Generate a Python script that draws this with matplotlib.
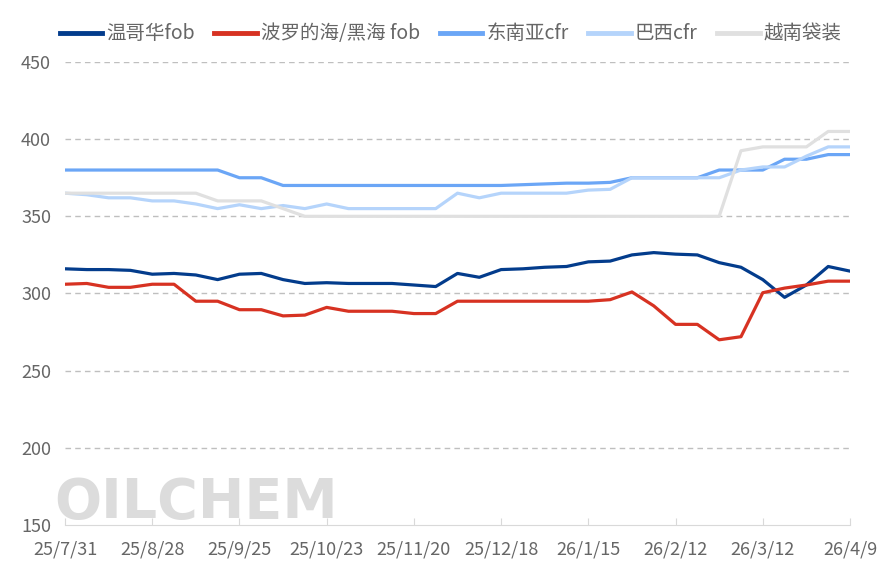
import matplotlib
matplotlib.use("Agg")
import matplotlib.pyplot as plt

plt.rcParams['font.family'] = ['Noto Sans CJK SC', 'DejaVu Sans']

# weekly points, 25/7/31 .. 26/4/9
tick_labels = ['25/7/31', '25/8/28', '25/9/25', '25/10/23', '25/11/20',
               '25/12/18', '26/1/15', '26/2/12', '26/3/12', '26/4/9']

vancouver = [316, 315.5, 315.5, 315, 312.5, 313, 312, 309, 312.5, 313,
             309, 306.5, 307, 306.5, 306.5, 306.5, 305.5, 304.5, 313, 310.5,
             315.5, 316, 317, 317.5, 320.5, 321, 325, 326.5, 325.5, 325,
             320, 317, 309, 297.5, 305.5, 317.5, 314.5]
baltic = [306, 306.5, 304, 304, 306, 306, 295, 295, 289.5, 289.5,
          285.5, 286, 291, 288.5, 288.5, 288.5, 287, 287, 295, 295,
          295, 295, 295, 295, 295, 296, 301, 292, 280, 280,
          270, 272, 300.5, 303.5, 305.5, 308, 308]
sea_cfr = [380, 380, 380, 380, 380, 380, 380, 380, 375, 375,
           370, 370, 370, 370, 370, 370, 370, 370, 370, 370,
           370, 370.5, 371, 371.5, 371.5, 372, 375, 375, 375, 375,
           380, 380, 380, 387, 387, 390, 390]
brazil_cfr = [365, 364, 362, 362, 360, 360, 358, 355, 357.5, 355,
              357, 355, 358, 355, 355, 355, 355, 355, 365, 362,
              365, 365, 365, 365, 367, 367.5, 375, 375, 375, 375,
              375, 380, 382, 382, 389, 395, 395]
vietnam_bag = [365, 365, 365, 365, 365, 365, 365, 360, 360, 360,
               355, 350, 350, 350, 350, 350, 350, 350, 350, 350,
               350, 350, 350, 350, 350, 350, 350, 350, 350, 350,
               350, 392.5, 395, 395, 395, 405, 405]

series = [
    ('温哥华fob', vancouver, '#033c8c'),
    ('波罗的海/黑海 fob', baltic, '#d73222'),
    ('东南亚cfr', sea_cfr, '#6ba6f6'),
    ('巴西cfr', brazil_cfr, '#b5d4fb'),
    ('越南袋装', vietnam_bag, '#e0e0e0'),
]

fig = plt.figure(figsize=(8.87, 5.83), dpi=100)
ax = fig.add_axes([65 / 887, 1 - 525 / 583, 785 / 887, 463 / 583])

# watermark behind everything
fig.text(54 / 887, 1 - 518 / 583, 'OILCHEM', fontsize=40, fontweight='bold',
         color='#dcdcdc', family='DejaVu Sans', zorder=0)

x = list(range(len(vancouver)))
for name, vals, col in series:
    ax.plot(x, vals, color=col, lw=2.3, label=name, solid_joinstyle='round')

ax.set_xlim(0, len(x) - 1)
ax.set_ylim(150, 450)
ax.set_yticks([150, 200, 250, 300, 350, 400, 450])
ax.set_xticks(x[::4])
ax.set_xticklabels(tick_labels)
ax.patch.set_alpha(0)

for v in [200, 250, 300, 350, 400, 450]:
    ax.axhline(v, color='#bfbfbf', lw=1.0, ls=(0, (4, 3)), zorder=0)

for s in ['top', 'right', 'left']:
    ax.spines[s].set_visible(False)
ax.spines['bottom'].set_color('#d9d9d9')
ax.tick_params(axis='y', length=0, pad=10, labelsize=13, labelcolor='#666666')
ax.tick_params(axis='x', direction='in', length=5, color='#d9d9d9',
               pad=11, labelsize=13, labelcolor='#666666')

leg = fig.legend(loc='upper center', bbox_to_anchor=(0.508, 0.99), ncol=5,
                 frameon=False, fontsize=14, labelcolor='#666666',
                 handlelength=2.2, handletextpad=0.2, columnspacing=1.0)
for h in leg.get_lines():
    h.set_linewidth(3.5)

fig.savefig('out.png', dpi=100)
